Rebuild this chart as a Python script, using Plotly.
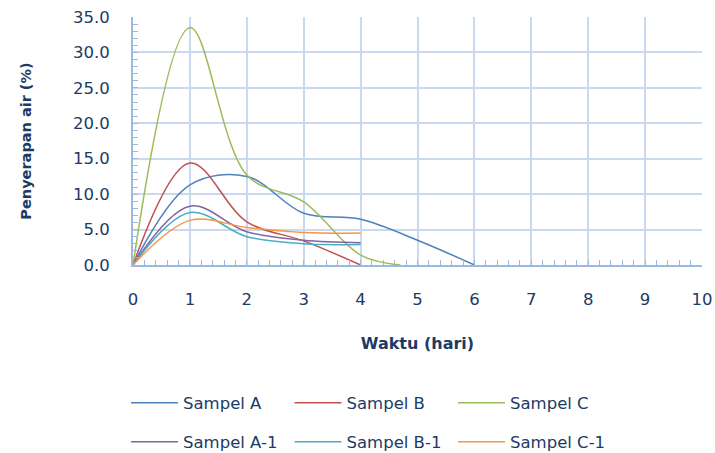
import plotly.graph_objects as go

days = [0, 1, 2, 3, 4, 5, 6]
sampel_a = [0, 11.3, 12.5, 7.3, 6.45, 3.5, 0]
days_b = [0, 1, 2, 3, 4]
sampel_b = [0, 14.4, 6.1, 3.4, 0]
days_c = [0, 1, 2, 3, 4, 4.7]
sampel_c = [0, 33.5, 12.7, 8.9, 1.4, 0]
days_1 = [0, 1, 2, 3, 4]
sampel_a1 = [0, 8.3, 4.7, 3.5, 3.15]
sampel_b1 = [0, 7.4, 4.0, 3.0, 2.9]
sampel_c1 = [0, 6.3, 5.3, 4.6, 4.5]

TXT = "#1C3A66"
GRID = "#C9DAF0"
AXL = "#9DB9E0"
FONT = "DejaVu Sans"

series = [
    ("Sampel A", days, sampel_a, "#4F81BD", "legend"),
    ("Sampel B", days_b, sampel_b, "#C0504D", "legend"),
    ("Sampel C", days_c, sampel_c, "#9BBB59", "legend"),
    ("Sampel A-1", days_1, sampel_a1, "#8064A2", "legend2"),
    ("Sampel B-1", days_1, sampel_b1, "#4BACC6", "legend2"),
    ("Sampel C-1", days_1, sampel_c1, "#F79646", "legend2"),
]

fig = go.Figure()
for name, xs, ys, col, lg in series:
    fig.add_trace(go.Scatter(
        x=xs, y=ys, name=name, mode="lines",
        line=dict(color=col, width=1.5, shape="spline", smoothing=1.0),
        legend=lg,
    ))

legend_common = dict(
    orientation="h", xref="container", yref="container",
    xanchor="left", yanchor="middle",
    font=dict(family=FONT, size=16.5, color=TXT),
    entrywidth=101.5, itemwidth=47, bgcolor="rgba(0,0,0,0)",
)

fig.update_layout(
    width=715, height=453,
    margin=dict(l=133, r=13, t=17, b=188, autoexpand=False),
    paper_bgcolor="white", plot_bgcolor="white",
    font=dict(family=FONT, color=TXT),
    showlegend=True,
    legend=dict(x=126 / 715, y=1 - 403 / 453, **legend_common),
    legend2=dict(x=126 / 715, y=1 - 442 / 453, **legend_common),
    xaxis=dict(
        range=[0, 10], dtick=1, tick0=0, automargin=False,
        showgrid=True, gridcolor=GRID, gridwidth=1.5,
        showline=True, linecolor=AXL, linewidth=2,
        ticks="inside", ticklen=5, tickcolor=AXL,
        minor=dict(dtick=0.2, ticks="inside", ticklen=5, tickcolor=AXL, showgrid=False),
        tickfont=dict(family=FONT, size=16.5, color=TXT),
        ticklabelstandoff=18, zeroline=False,
        title=dict(text="<b>Waktu (hari)</b>", font=dict(family=FONT, size=16, color=TXT), standoff=30),
    ),
    yaxis=dict(
        range=[0, 35], dtick=5, tick0=0, tickformat=".1f", automargin=False,
        showgrid=True, gridcolor=GRID, gridwidth=1.5,
        showline=True, linecolor=AXL, linewidth=2,
        ticks="inside", ticklen=5, tickcolor=AXL,
        minor=dict(dtick=1, ticks="inside", ticklen=5, tickcolor=AXL, showgrid=False),
        tickfont=dict(family=FONT, size=16.5, color=TXT),
        ticklabelstandoff=18, zeroline=False,
        title=dict(text="<b>Penyerapan air (%)</b>", font=dict(family=FONT, size=14.5, color=TXT), standoff=38),
    ),
)

fig.write_html("out.html")
